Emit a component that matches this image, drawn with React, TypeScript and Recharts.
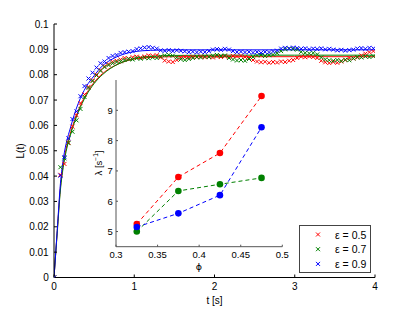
import { ComposedChart, LineChart, Line, Scatter, XAxis, YAxis, Label, CartesianGrid } from "recharts";

const FONT = '"Liberation Sans", Arial, Helvetica, sans-serif';

// sample times [s]
const times = [
  0, 0.08, 0.13, 0.18, 0.23, 0.28, 0.33, 0.38, 0.43, 0.48,
  0.53, 0.58, 0.63, 0.68, 0.73, 0.78, 0.83, 0.88, 0.93, 0.98,
  1.03, 1.08, 1.13, 1.18, 1.23, 1.28, 1.33, 1.38, 1.43, 1.48,
  1.53, 1.58, 1.63, 1.68, 1.73, 1.78, 1.83, 1.88, 1.93, 1.98,
  2.03, 2.08, 2.13, 2.18, 2.23, 2.28, 2.33, 2.38, 2.43, 2.48,
  2.53, 2.58, 2.63, 2.68, 2.73, 2.78, 2.83, 2.88, 2.93, 2.98,
  3.03, 3.08, 3.13, 3.18, 3.23, 3.28, 3.33, 3.38, 3.43, 3.48,
  3.53, 3.58, 3.63, 3.68, 3.73, 3.78, 3.83, 3.88, 3.93, 3.98,
];

const lRed = [
  0, 0.0405, 0.0448, 0.0532, 0.0595, 0.064, 0.0688, 0.0722, 0.0752, 0.0778,
  0.08, 0.0818, 0.0833, 0.0842, 0.0851, 0.0855, 0.086, 0.0866, 0.0864, 0.0869,
  0.0871, 0.0868, 0.0872, 0.0876, 0.0874, 0.0877, 0.0868, 0.0856, 0.0852, 0.085,
  0.0858, 0.0867, 0.087, 0.0868, 0.0871, 0.0869, 0.0872, 0.0869, 0.0871, 0.0868,
  0.0872, 0.087, 0.0873, 0.0871, 0.0874, 0.0872, 0.0875, 0.087, 0.0866, 0.0858,
  0.0852, 0.0849, 0.0851, 0.0847, 0.085, 0.0848, 0.0852, 0.085, 0.0855, 0.0858,
  0.0866, 0.0871, 0.0869, 0.0872, 0.087, 0.0866, 0.0855, 0.0849, 0.0846, 0.085,
  0.0847, 0.0852, 0.0858, 0.0866, 0.0864, 0.0868, 0.0876, 0.0883, 0.0889, 0.0893,
];

const lGreen = [
  0, 0.0435, 0.047, 0.053, 0.0575, 0.062, 0.0665, 0.0712, 0.0748, 0.0775,
  0.0797, 0.0815, 0.083, 0.0838, 0.0845, 0.085, 0.0853, 0.0858, 0.0862, 0.086,
  0.0865, 0.0863, 0.0867, 0.0865, 0.0868, 0.0866, 0.0872, 0.0876, 0.0878, 0.0875,
  0.0868, 0.0861, 0.0858, 0.0862, 0.0866, 0.087, 0.0868, 0.0872, 0.087, 0.0875,
  0.0878, 0.0874, 0.0876, 0.0866, 0.086, 0.0856, 0.0858, 0.0855, 0.0862, 0.087,
  0.0876, 0.0878, 0.0874, 0.0877, 0.0879, 0.0885, 0.0893, 0.09, 0.0903, 0.0901,
  0.0899, 0.089, 0.0886, 0.0884, 0.0886, 0.088, 0.0868, 0.086, 0.0857, 0.0855,
  0.0858, 0.0854, 0.0859, 0.0857, 0.0864, 0.087, 0.0868, 0.0872, 0.087, 0.0873,
];

const lBlue = [
  0, 0.0402, 0.0475, 0.0549, 0.0625, 0.0655, 0.0715, 0.0755, 0.0785, 0.0808,
  0.0828, 0.0845, 0.0852, 0.0866, 0.0874, 0.0878, 0.0886, 0.0889, 0.0891, 0.0893,
  0.0901, 0.0904, 0.0907, 0.0909, 0.0906, 0.0903, 0.0896, 0.0894, 0.0897, 0.0893,
  0.0896, 0.0894, 0.0892, 0.0889, 0.0891, 0.0888, 0.0891, 0.0889, 0.0893, 0.0899,
  0.0901, 0.0898, 0.0902, 0.0899, 0.0893, 0.0889, 0.0891, 0.0888, 0.089, 0.0887,
  0.0889, 0.0886, 0.089, 0.0888, 0.0892, 0.0895, 0.0903, 0.0906, 0.0904, 0.0907,
  0.0905, 0.0902, 0.0904, 0.09, 0.0903, 0.0901, 0.0904, 0.09, 0.0902, 0.0899,
  0.0896, 0.0898, 0.0895, 0.0897, 0.0899, 0.0903, 0.0905, 0.0902, 0.0906, 0.0904,
];

// fitted curves
const fitTimes = [0, 0.04, 0.08, 0.12, 0.16, 0.2, 0.25, 0.3, 0.4, 0.5, 0.6, 0.7, 0.8, 0.9, 1.0, 1.2, 1.5, 2, 3, 4];
const fitRed = [0, 0.018, 0.0355, 0.0455, 0.052, 0.0565, 0.0615, 0.0657, 0.0723, 0.077, 0.0803, 0.0826, 0.0842, 0.0854, 0.0862, 0.0868, 0.0871, 0.0871, 0.0871, 0.0871];
const fitGreen = [0, 0.0175, 0.0345, 0.0445, 0.051, 0.0557, 0.0607, 0.065, 0.0717, 0.0765, 0.0799, 0.0824, 0.0842, 0.0855, 0.0864, 0.0872, 0.0876, 0.0877, 0.0877, 0.0877];
const fitBlue = [0, 0.0185, 0.037, 0.0475, 0.054, 0.0585, 0.064, 0.0685, 0.0752, 0.0796, 0.0834, 0.0857, 0.0873, 0.0884, 0.0891, 0.0896, 0.0898, 0.0898, 0.0898, 0.0898];

const xTicks = [0, 1, 2, 3, 4];
const yTicks = [0, 0.01, 0.02, 0.03, 0.04, 0.05, 0.06, 0.07, 0.08, 0.09, 0.1];

// inset
const phi = [0.325, 0.375, 0.425, 0.475];
const lamRed = [5.25, 6.8, 7.59, 9.47];
const lamGreen = [5.0, 6.34, 6.56, 6.77];
const lamBlue = [5.15, 5.6, 6.2, 8.44];
const phiTicks = [0.3, 0.35, 0.4, 0.45, 0.5];
const lamTicks = [5, 6, 7, 8, 9];

const series = [
  { name: "ε = 0.5", color: "#ff0000", values: lRed, fit: fitRed },
  { name: "ε = 0.7", color: "#008000", values: lGreen, fit: fitGreen },
  { name: "ε = 0.9", color: "#0000ff", values: lBlue, fit: fitBlue },
];

const insetData = phi.map((p, i) => ({ phi: p, red: lamRed[i], green: lamGreen[i], blue: lamBlue[i] }));

function XMark(props: any) {
  const { cx, cy, color } = props;
  if (cx == null || cy == null) return null;
  const s = 2;
  return (
    <path
      d={`M${cx - s},${cy - s}L${cx + s},${cy + s}M${cx - s},${cy + s}L${cx + s},${cy - s}`}
      stroke={color}
      strokeWidth={1}
      fill="none"
    />
  );
}

const tickStyle = { fill: "#000", fontSize: 10, fontFamily: FONT };
const insetTick = { fill: "#000", fontSize: 9.5, fontFamily: FONT };

function fmtY(v: number) {
  if (v === 0) return "0";
  return String(parseFloat(v.toFixed(2)));
}

function Legend() {
  return (
    <div
      style={{
        position: "absolute",
        left: 299,
        top: 225,
        width: 72,
        height: 48,
        boxSizing: "border-box",
        border: "1px solid #444",
        background: "#fff",
      }}
    >
      <svg width={70} height={46}>
        {series.map((s, i) => (
          <g key={s.name}>
            <XMark cx={18} cy={8.5 + i * 14.7} color={s.color} />
            <text x={35} y={8.5 + i * 14.7} dominantBaseline="central" fontSize={10.5} fontFamily={FONT} fill="#000">
              {s.name}
            </text>
          </g>
        ))}
      </svg>
    </div>
  );
}

export default function App() {
  return (
    <div style={{ position: "absolute", left: 0, top: 0, width: 415, height: 313, background: "#fff" }}>
      <ComposedChart width={415} height={313} margin={{ top: 24, right: 40, bottom: 0, left: 0 }}>
        <XAxis
          type="number"
          dataKey="t"
          domain={[0, 4]}
          ticks={xTicks}
          height={35.5}
          tickSize={-3}
          tickMargin={8.5}
          tick={tickStyle}
          stroke="#000"
          allowDataOverflow
        >
          <Label value="t [s]" position="insideBottom" offset={9} fill="#000" fontSize={10} fontFamily={FONT} />
        </XAxis>
        <XAxis
          xAxisId="top"
          orientation="top"
          type="number"
          domain={[0, 4]}
          ticks={xTicks}
          height={0}
          tickSize={-3}
          tick={false}
          stroke="#000"
        />
        <YAxis
          type="number"
          dataKey="v"
          domain={[0, 0.1]}
          ticks={yTicks}
          width={54}
          tickSize={-3}
          tickMargin={8.3}
          tick={tickStyle}
          tickFormatter={fmtY}
          stroke="#000"
          allowDataOverflow
        >
          <Label
            content={() => (
              <text x={20} y={151} transform="rotate(-90 20 151)" textAnchor="middle" dominantBaseline="central" fontSize={10} fontFamily={FONT} fill="#000">
                L(t)
              </text>
            )}
          />
        </YAxis>
        <YAxis
          yAxisId="right"
          orientation="right"
          type="number"
          domain={[0, 0.1]}
          ticks={yTicks}
          width={0}
          tickSize={-3}
          tick={false}
          stroke="#000"
        />
        {series.map((s) => (
          <Scatter
            key={"pts" + s.name}
            data={times.map((t, i) => ({ t, v: s.values[i] }))}
            shape={(p: any) => <XMark {...p} color={s.color} />}
            isAnimationActive={false}
          />
        ))}
        {series.map((s) => (
          <Line
            key={"fit" + s.name}
            data={fitTimes.map((t, i) => ({ t, v: s.fit[i] }))}
            dataKey="v"
            type="monotone"
            stroke={s.color}
            strokeWidth={1}
            dot={false}
            activeDot={false}
            isAnimationActive={false}
          />
        ))}
      </ComposedChart>

      <div style={{ position: "absolute", left: 80, top: 75 }}>
        <LineChart width={210} height={200} data={insetData} margin={{ top: 5, right: 7.7, bottom: 0, left: 0 }}>
          <CartesianGrid horizontal={false} vertical={false} fill="#fff" />
          <XAxis
            type="number"
            dataKey="phi"
            domain={[0.3, 0.5]}
            ticks={phiTicks}
            height={28.3}
            tickSize={-2}
            tickMargin={7}
            tick={insetTick}
            stroke="#555"
            allowDataOverflow
          >
            <Label
              content={() => (
                <text x={119} y={191} textAnchor="middle" dominantBaseline="central" fontSize={9.5} fontFamily='"DejaVu Sans", sans-serif' fill="#000">
                  ϕ
                </text>
              )}
            />
          </XAxis>
          <XAxis xAxisId="top" orientation="top" type="number" domain={[0.3, 0.5]} ticks={phiTicks} height={0} tickSize={-2} tick={false} stroke="#555" />
          <YAxis
            type="number"
            domain={[4.5, 10]}
            ticks={lamTicks}
            width={36}
            tickSize={-2}
            tickMargin={5.3}
            tick={insetTick}
            stroke="#555"
            allowDataOverflow
          >
            <Label
              content={() => (
                <text x={18} y={88} transform="rotate(-90 18 88)" textAnchor="middle" dominantBaseline="central" fontSize={9.5} fontFamily={FONT} fill="#000">
                  λ [s<tspan dy={-3} fontSize={6.5}>−1</tspan>
                  <tspan dy={3}>]</tspan>
                </text>
              )}
            />
          </YAxis>
          <YAxis yAxisId="right" orientation="right" type="number" domain={[4.5, 10]} ticks={lamTicks} width={0} tickSize={-2} tick={false} stroke="#555" />
          <Line dataKey="red" stroke="#ff0000" strokeDasharray="4 3" strokeWidth={1} dot={{ r: 3.3, fill: "#ff0000", stroke: "none" }} activeDot={false} isAnimationActive={false} />
          <Line dataKey="green" stroke="#008000" strokeDasharray="4 3" strokeWidth={1} dot={{ r: 3.3, fill: "#008000", stroke: "none" }} activeDot={false} isAnimationActive={false} />
          <Line dataKey="blue" stroke="#0000ff" strokeDasharray="4 3" strokeWidth={1} dot={{ r: 3.3, fill: "#0000ff", stroke: "none" }} activeDot={false} isAnimationActive={false} />
        </LineChart>
      </div>

      <Legend />
    </div>
  );
}
